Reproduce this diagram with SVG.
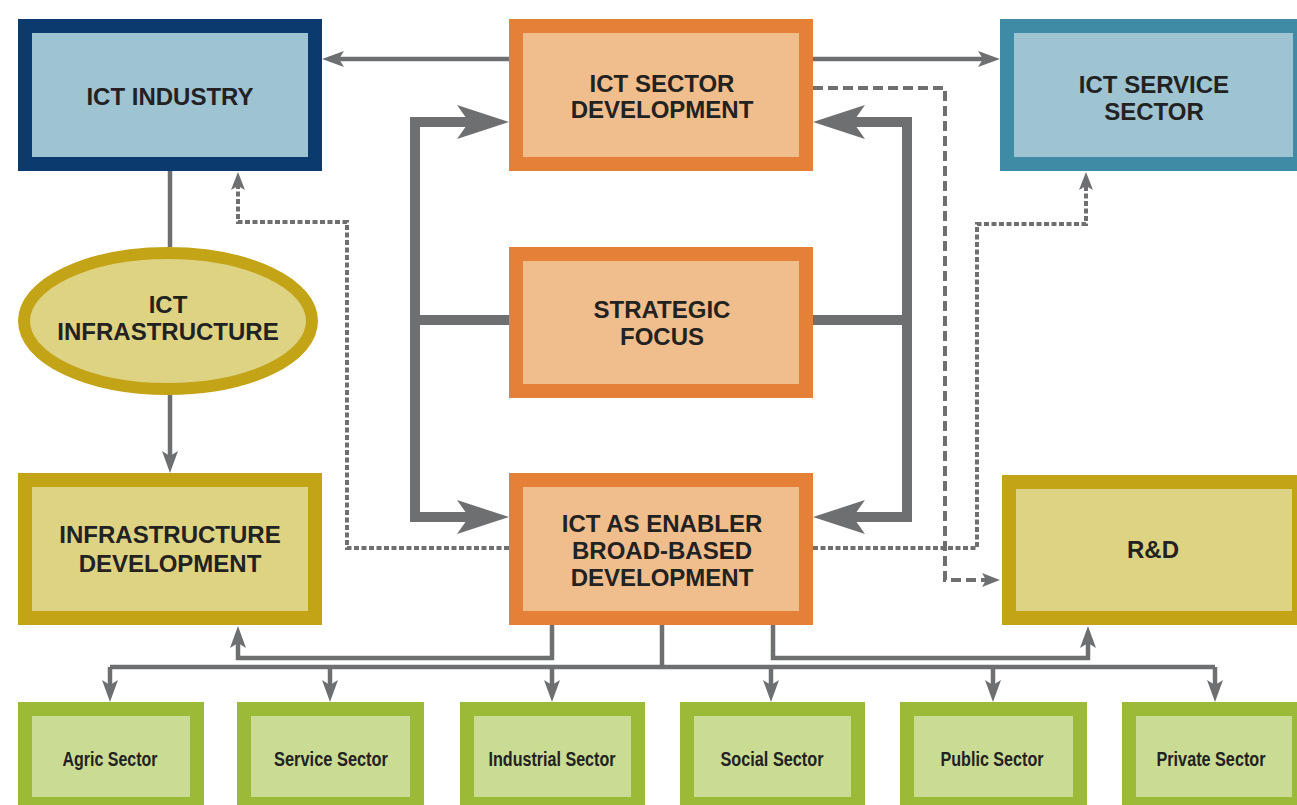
<svg xmlns="http://www.w3.org/2000/svg" width="1297" height="805" viewBox="0 0 1297 805">
<style>
.t{font-family:"Liberation Sans",Arial,sans-serif;font-weight:bold;font-size:24px;fill:#222;text-anchor:middle}
.s{font-family:"Liberation Sans",Arial,sans-serif;font-weight:bold;font-size:20px;fill:#222;text-anchor:middle}
.blue{fill:#9ec3d1;stroke-width:14}
.org{fill:#f0bd8c;stroke:#e58038;stroke-width:14}
.gold{fill:#ded283;stroke:#c4a417;stroke-width:14}
.gbd{fill:#9bbb38}
.gin{fill:#cadb93}
.thin{fill:none;stroke:#6e6f71;stroke-width:4.5}
.thick{fill:none;stroke:#6e6f71;stroke-width:10;stroke-linejoin:miter}
.dash{fill:none;stroke:#6e6f71;stroke-width:4;stroke-dasharray:10 5}
.dot{fill:none;stroke:#6e6f71;stroke-width:4;stroke-dasharray:5 2.5}
</style>
<defs>
<marker id="ah" markerUnits="userSpaceOnUse" markerWidth="30" markerHeight="30" refX="5" refY="0" orient="auto" overflow="visible">
<path d="M0,-8 L22,0 L0,8 L5,0 Z" fill="#6e6f71"/>
</marker>
<marker id="ahd" markerUnits="userSpaceOnUse" markerWidth="30" markerHeight="30" refX="4" refY="0" orient="auto" overflow="visible">
<path d="M0,-7 L18,0 L0,7 L4,0 Z" fill="#6e6f71"/>
</marker>
<marker id="ahb" markerUnits="userSpaceOnUse" markerWidth="60" markerHeight="60" refX="12" refY="0" orient="auto-start-reverse" overflow="visible">
<path d="M0,-17 L52,0 L0,17 L12,0 Z" fill="#6e6f71"/>
</marker>
</defs>
<rect width="1297" height="805" fill="#ffffff"/>

<g id="connectors">
<path class="thin" d="M509,59 H339" marker-end="url(#ah)"/>
<path class="thin" d="M813,59 H983" marker-end="url(#ah)"/>
<path class="thin" d="M170,171 V247"/>
<path class="thin" d="M170,395 V456" marker-end="url(#ah)"/>
<path class="thick" d="M469,122 H415 V517 H469" marker-start="url(#ahb)" marker-end="url(#ahb)"/>
<path class="thick" d="M509,320 H415"/>
<path class="thick" d="M853,122 H907 V517 H853" marker-start="url(#ahb)" marker-end="url(#ahb)"/>
<path class="thick" d="M813,320 H907"/>
<path class="dash" d="M813,88 H945 V580 H986" marker-end="url(#ahd)"/>
<path class="dot" d="M813,548 H977 V224 H1086 V186" marker-end="url(#ahd)"/>
<path class="dot" d="M509,548 H347 V222 H238 V186" marker-end="url(#ahd)"/>
<path class="thin" d="M552,625 V658 H238 V643" marker-end="url(#ah)"/>
<path class="thin" d="M773,625 V658 H1088 V643" marker-end="url(#ah)"/>
<path class="thin" d="M662,625 V667"/>
<path class="thin" d="M110,667 H1215"/>
<path class="thin" d="M110,667 V685" marker-end="url(#ah)"/>
<path class="thin" d="M330,667 V685" marker-end="url(#ah)"/>
<path class="thin" d="M552,667 V685" marker-end="url(#ah)"/>
<path class="thin" d="M771,667 V685" marker-end="url(#ah)"/>
<path class="thin" d="M993,667 V685" marker-end="url(#ah)"/>
<path class="thin" d="M1215,667 V685" marker-end="url(#ah)"/>
</g>

<g id="ict-industry">
<rect class="blue" x="25" y="26" width="290" height="138" stroke="#0b3a6e"/>
<text class="t" x="170" y="105">ICT INDUSTRY</text>
</g>
<g id="ict-sector-development">
<rect class="org" x="516" y="26" width="290" height="138"/>
<text class="t" x="662" y="92">ICT SECTOR</text>
<text class="t" x="662" y="118">DEVELOPMENT</text>
</g>
<g id="ict-service-sector">
<rect x="1000" y="19" width="297" height="152" fill="#3f8ba5"/>
<rect x="1014" y="33" width="279" height="124" fill="#9ec3d1"/>
<text class="t" x="1154" y="93">ICT SERVICE</text>
<text class="t" x="1154" y="120">SECTOR</text>
</g>
<g id="ict-infrastructure">
<ellipse cx="168" cy="321" rx="144" ry="68" fill="#ded283" stroke="#c4a417" stroke-width="12"/>
<text class="t" x="168" y="313">ICT</text>
<text class="t" x="168" y="340">INFRASTRUCTURE</text>
</g>
<g id="strategic-focus">
<rect class="org" x="516" y="254" width="290" height="137"/>
<text class="t" x="662" y="318">STRATEGIC</text>
<text class="t" x="662" y="345">FOCUS</text>
</g>
<g id="infrastructure-development">
<rect class="gold" x="25" y="480" width="290" height="138"/>
<text class="t" x="170" y="543">INFRASTRUCTURE</text>
<text class="t" x="170" y="572">DEVELOPMENT</text>
</g>
<g id="ict-as-enabler">
<rect class="org" x="516" y="480" width="290" height="138"/>
<text class="t" x="662" y="532">ICT AS ENABLER</text>
<text class="t" x="662" y="559">BROAD-BASED</text>
<text class="t" x="662" y="586">DEVELOPMENT</text>
</g>
<g id="r-and-d">
<rect x="1002" y="475" width="295" height="150" fill="#c4a417"/>
<rect x="1016" y="489" width="276" height="122" fill="#ded283"/>
<text class="t" x="1153" y="558">R&amp;D</text>
</g>
<g id="agric-sector">
<rect class="gbd" x="18" y="702" width="186" height="103"/>
<rect class="gin" x="32" y="716" width="158" height="81"/>
<text class="s" x="110" y="766" textLength="95" lengthAdjust="spacingAndGlyphs">Agric Sector</text>
</g>
<g id="service-sector">
<rect class="gbd" x="237" y="702" width="187" height="103"/>
<rect class="gin" x="251" y="716" width="159" height="81"/>
<text class="s" x="331" y="766" textLength="114" lengthAdjust="spacingAndGlyphs">Service Sector</text>
</g>
<g id="industrial-sector">
<rect class="gbd" x="460" y="702" width="185" height="103"/>
<rect class="gin" x="474" y="716" width="157" height="81"/>
<text class="s" x="552" y="766" textLength="127" lengthAdjust="spacingAndGlyphs">Industrial Sector</text>
</g>
<g id="social-sector">
<rect class="gbd" x="680" y="702" width="185" height="103"/>
<rect class="gin" x="694" y="716" width="157" height="81"/>
<text class="s" x="772" y="766" textLength="103" lengthAdjust="spacingAndGlyphs">Social Sector</text>
</g>
<g id="public-sector">
<rect class="gbd" x="900" y="702" width="187" height="103"/>
<rect class="gin" x="914" y="716" width="159" height="81"/>
<text class="s" x="992" y="766" textLength="103" lengthAdjust="spacingAndGlyphs">Public Sector</text>
</g>
<g id="private-sector">
<rect class="gbd" x="1122" y="702" width="175" height="103"/>
<rect class="gin" x="1136" y="716" width="156" height="81"/>
<text class="s" x="1211" y="766" textLength="109" lengthAdjust="spacingAndGlyphs">Private Sector</text>
</g>
</svg>
